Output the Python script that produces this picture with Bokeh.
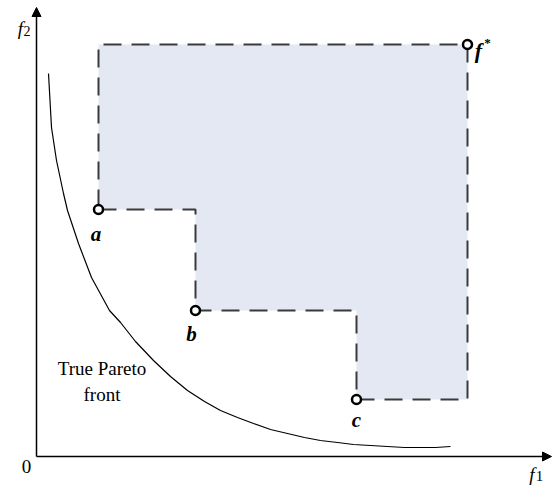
from bokeh.plotting import figure
from bokeh.models import Arrow, NormalHead, ColumnDataSource
from bokeh.core.properties import value
from bokeh.embed import file_html
from bokeh.resources import INLINE

# ---- data (objective units, origin at 0,0) ----
point_labels = ["a", "b", "c"]
point_f1 = [62, 159, 320]
point_f2 = [247, 146, 57]
ref_f1 = 431
ref_f2 = 412

pareto_f1 = [12, 15, 20, 27, 31, 42, 55, 73, 84, 99, 117, 134, 151, 168, 184, 201,
             217, 234, 251, 268, 284, 301, 317, 334, 351, 368, 384, 399, 414]
pareto_f2 = [383, 329, 296, 263, 246, 213, 179, 146, 134, 115, 96, 80, 66, 55, 46, 39,
             33, 27, 23, 19, 16, 14, 12, 11, 10, 9, 9, 9, 10]

W, H = 553, 485
p = figure(width=W, height=H, output_backend="svg", toolbar_location=None,
           x_range=(-36, W - 36), y_range=(456 - H, 456),
           x_axis_location=None, y_axis_location=None, min_border=0)
p.grid.visible = False
p.outline_line_color = None
p.background_fill_color = "white"

# staircase dominated region
xs = [point_f1[0]]
ys = [point_f2[0]]
for i in range(len(point_f1) - 1):
    xs += [point_f1[i + 1], point_f1[i + 1]]
    ys += [point_f2[i], point_f2[i + 1]]
xs += [ref_f1, ref_f1, point_f1[0], point_f1[0]]
ys += [point_f2[-1], ref_f2, ref_f2, point_f2[0]]

p.patch(xs, ys, fill_color="#E3E8F2", line_color=None)
p.line(xs, ys, line_color="#3a3a3a", line_width=2, line_dash="18 10")

# true Pareto front
p.line(pareto_f1, pareto_f2, line_color="black", line_width=1.2)

# axes arrows
head = dict(size=9, fill_color="black", line_color="black")
p.add_layout(Arrow(end=NormalHead(**head), x_start=0, y_start=0, x_end=0, y_end=449,
                   line_color="black", line_width=1.5))
p.add_layout(Arrow(end=NormalHead(**head), x_start=0, y_start=0, x_end=515, y_end=0,
                   line_color="black", line_width=1.5))

# points
src = ColumnDataSource(dict(x=point_f1, y=point_f2, t=point_labels,
                            dx=[-2.5, -4, 0], dy=[24, 23, 20]))
p.scatter("x", "y", source=src, size=9, fill_color="white", line_color="black", line_width=2.5)
p.scatter([ref_f1], [ref_f2], size=9, fill_color="white", line_color="black", line_width=2.5)

serif = value("Liberation Serif")
p.text("x", "y", text="t", source=src, text_font=serif, text_font_style="bold italic",
       text_font_size="21px", text_align="center", text_baseline="alphabetic",
       x_offset="dx", y_offset="dy", text_color="black")
p.text([ref_f1], [ref_f2], text=["f"], text_font=serif, text_font_style="bold italic",
       text_font_size="22px", text_align="center", text_baseline="alphabetic",
       x_offset=11, y_offset=6, text_color="black")
p.text([ref_f1], [ref_f2], text=["*"], text_font=serif, text_font_style="bold",
       text_font_size="13px", text_align="center", text_baseline="alphabetic",
       x_offset=20, y_offset=-2, text_color="black")

# axis labels
p.text([-10], [-10], text=["0"], text_font=serif, text_font_size="19px",
       text_align="center", text_baseline="alphabetic", text_color="black")
p.text([-16], [428], text=["f"], text_font=serif, text_font_style="italic",
       text_font_size="19px", text_align="center", text_baseline="alphabetic",
       text_color="black")
p.text([-9.5], [426], text=["2"], text_font=serif,
       text_font_size="14px", text_align="center", text_baseline="alphabetic",
       text_color="black")
p.text([495.5], [-18], text=["f"], text_font=serif, text_font_style="italic",
       text_font_size="19px", text_align="center", text_baseline="alphabetic",
       text_color="black")
p.text([503], [-19], text=["1"], text_font=serif,
       text_font_size="15px", text_align="center", text_baseline="alphabetic",
       text_color="black")

# curve label
p.text([65.5, 65.5], [88, 62], text=["True Pareto", "front"], text_font=serif,
       text_font_size="19px", text_align="center", text_baseline="alphabetic",
       text_color="black")

open("out.html", "w").write(file_html(p, INLINE))
